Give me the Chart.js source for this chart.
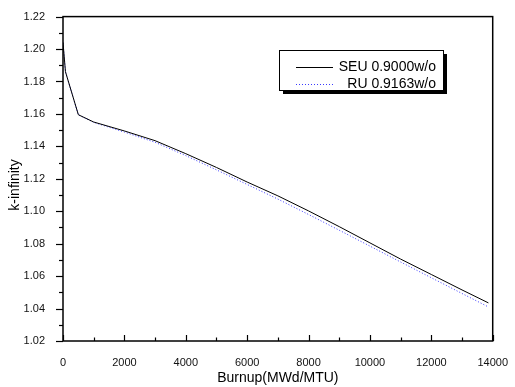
<!DOCTYPE html>
<html>
<head>
<meta charset="utf-8">
<script src="https://cdn.jsdelivr.net/npm/chart.js@4/dist/chart.umd.min.js"></script>
<style>
  html, body { margin: 0; padding: 0; background: #fff; }
  canvas { display: block; }
</style>
</head>
<body>
<canvas id="kinfChart" width="515" height="387"></canvas>
<script>
// burnup steps (MWd/MTU) and k-infinity
const burnup = [0, 80, 500, 1000, 2000, 3000, 4000, 5000, 6000, 7000, 8000, 9000, 10000, 11000, 12000, 13000, 13860];
const seuKinf = [1.204, 1.186, 1.1595, 1.155, 1.1495, 1.1435, 1.1355, 1.127, 1.118, 1.1095, 1.1002, 1.0905, 1.0805, 1.0705, 1.061, 1.0515, 1.0435];
const ruKinf = [1.204, 1.186, 1.1595, 1.1548, 1.1488, 1.1425, 1.1343, 1.1255, 1.1165, 1.1075, 1.098, 1.0883, 1.0785, 1.0687, 1.059, 1.0493, 1.041];
const seriesNames = ["SEU 0.9000w/o", "RU 0.9163w/o"];
const xTitle = "Burnup(MWd/MTU)";
const yTitle = "k-infinity";

const FONT = "'Liberation Sans', Arial, sans-serif";

const toPoints = (xs, ys) => xs.map((x, i) => ({ x: x, y: ys[i] }));

// frame, minor/major ticks, axis titles and the boxed legend
const framePlugin = {
  id: "frame",
  afterDraw(chart) {
    const ctx = chart.ctx;
    const { left, right, top, bottom } = chart.chartArea;
    const xs = chart.scales.x;
    const ys = chart.scales.y;

    ctx.save();
    ctx.strokeStyle = "#000";
    ctx.lineWidth = 1.5;
    ctx.strokeRect(left, top, right - left, bottom - top);

    // x ticks point inside the plot
    ctx.lineWidth = 1.2;
    for (let v = 0; v <= 14000; v += 1000) {
      const px = Math.round(xs.getPixelForValue(v)) + 0.5;
      const len = v % 2000 === 0 ? 6 : 3.5;
      ctx.beginPath();
      ctx.moveTo(px, bottom);
      ctx.lineTo(px, bottom - len);
      ctx.stroke();
    }
    // y ticks point outside
    for (let i = 0; i <= 20; i++) {
      const v = 1.02 + i * 0.01;
      const py = Math.round(ys.getPixelForValue(v)) + 0.5;
      const len = i % 2 === 0 ? 7 : 4;
      ctx.beginPath();
      ctx.moveTo(left, py);
      ctx.lineTo(left - len, py);
      ctx.stroke();
    }

    // axis titles
    ctx.fillStyle = "#000";
    ctx.font = "14px " + FONT;
    ctx.textAlign = "center";
    ctx.textBaseline = "middle";
    ctx.fillText(xTitle, (left + right) / 2, 378);
    ctx.save();
    ctx.translate(15, 185);
    ctx.rotate(-Math.PI / 2);
    ctx.fillText(yTitle, 0, 0);
    ctx.restore();

    // legend box with drop shadow
    const bx = 279, by = 50, bw = 164, bh = 40;
    ctx.fillStyle = "#000";
    ctx.fillRect(bx + 4, by + 4, bw, bh);
    ctx.fillStyle = "#fff";
    ctx.fillRect(bx, by, bw, bh);
    ctx.lineWidth = 1;
    ctx.strokeRect(bx + 0.5, by + 0.5, bw, bh);

    const rows = [67, 84];
    chart.data.datasets.forEach((ds, i) => {
      const y = rows[i] + 0.5;
      ctx.strokeStyle = ds.borderColor;
      ctx.lineWidth = 1;
      ctx.setLineDash(ds.borderDash || []);
      ctx.beginPath();
      ctx.moveTo(296, y);
      ctx.lineTo(333, y);
      ctx.stroke();
      ctx.setLineDash([]);
      ctx.fillStyle = "#000";
      ctx.textAlign = "right";
      ctx.font = "14px " + FONT;
      ctx.fillText(ds.label, 436, rows[i]);
    });
    ctx.restore();
  },
};

new Chart(document.getElementById("kinfChart"), {
  type: "line",
  data: {
    datasets: [
      {
        label: seriesNames[0],
        data: toPoints(burnup, seuKinf),
        borderColor: "#000000",
        borderWidth: 1,
        pointRadius: 0,
        tension: 0,
      },
      {
        label: seriesNames[1],
        data: toPoints(burnup, ruKinf),
        borderColor: "#3a3aff",
        borderWidth: 1,
        borderDash: [1, 2],
        pointRadius: 0,
        tension: 0,
      },
    ],
  },
  options: {
    responsive: false,
    animation: false,
    devicePixelRatio: 1,
    layout: { padding: { top: 13, right: 17, left: 0, bottom: 0 } },
    plugins: {
      legend: { display: false },
      tooltip: { enabled: false },
    },
    scales: {
      x: {
        type: "linear",
        min: 0,
        max: 14000,
        grid: { display: false },
        border: { display: false },
        ticks: {
          stepSize: 2000,
          maxRotation: 0,
          padding: 7,
          color: "#111",
          font: { family: FONT, size: 11 },
          callback: (v) => String(v),
        },
        afterFit(scale) {
          scale.height = 46;
        },
      },
      y: {
        min: 1.02,
        max: 1.22,
        grid: { display: false },
        border: { display: false },
        ticks: {
          stepSize: 0.02,
          padding: 10,
          color: "#111",
          font: { family: FONT, size: 11 },
          callback: (v) => v.toFixed(2),
        },
        afterFit(scale) {
          scale.width = 63;
        },
      },
    },
  },
  plugins: [framePlugin],
});
</script>
</body>
</html>
